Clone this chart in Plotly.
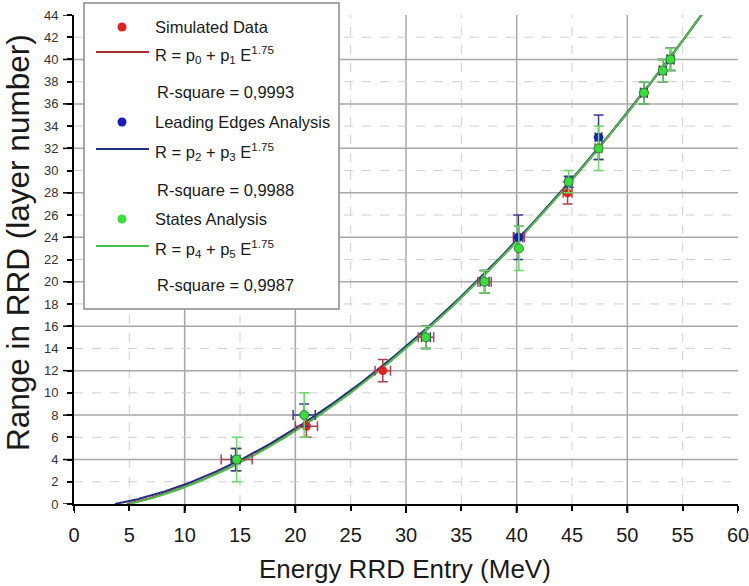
import numpy as np
import plotly.graph_objects as go

# ---- data ----
sim_E = [14.7, 21.0, 27.9, 31.8, 37.1, 40.2, 44.6, 47.4, 51.5, 53.2, 53.9]
sim_R = [4, 7, 12, 15, 20, 24, 28, 32, 37, 39, 40]
sim_dE = [1.4, 1.0, 0.7, 0.7, 0.6, 0.5, 0.4, 0.3, 0.3, 0.3, 0.3]
sim_dR = [1, 1, 1, 1, 1, 1, 1, 1, 1, 1, 1]

le_E = [14.6, 20.8, 31.8, 37.1, 40.15, 44.7, 47.4, 51.5, 53.2, 53.9]
le_R = [4, 8, 15, 20, 24, 29, 33, 37, 39, 40]
le_dE = [0.4, 1.0, 0.4, 0.4, 0.4, 0.3, 0.3, 0.3, 0.3, 0.3]
le_dR = [1, 1, 1, 1, 2, 0.5, 2, 1, 1, 1]

st_E = [14.7, 20.8, 31.8, 37.1, 40.2, 44.7, 47.4, 51.5, 53.2, 53.9]
st_R = [4, 8, 15, 20, 23, 29, 32, 37, 39, 40]
st_dR = [2, 2, 1, 1, 2, 1, 2, 1, 1, 1]

# fit parameters R = p_a + p_b * E^1.75
p0, p1 = -0.592, 0.03805
p2, p3 = -0.374, 0.03787
p4, p5 = -0.637, 0.03809
expo = 1.75

x_ticks = list(range(0, 61, 5))
y_ticks = list(range(0, 45, 2))

# ---- geometry (pixels) ----
W, H = 749, 586
L, R_, T, B = 74, 11, 15, 82
PW, PH = W - L - R_, H - T - B


def px(x):
    return (x - L) / PW


def py(y):
    return (H - B - y) / PH


FONT = "Liberation Sans, Arial"


def fit_curve(a, b):
    e0 = (-a / b) ** (1 / expo)
    e = np.linspace(e0, 58, 400)
    return e, a + b * e ** expo


fig = go.Figure()

# fitted curves
for a, b, col in [(p0, p1, "#a8302c"), (p2, p3, "#22307e"), (p4, p5, "#4cbf4c")]:
    e, r = fit_curve(a, b)
    fig.add_trace(go.Scatter(x=e, y=r, mode="lines", line=dict(color=col, width=2),
                             showlegend=False, hoverinfo="skip"))

# measured points with error bars
fig.add_trace(go.Scatter(
    x=sim_E, y=sim_R, mode="markers",
    marker=dict(color="#e02222", size=9),
    error_x=dict(type="data", array=sim_dE, color="#b04050", thickness=1.5, width=5),
    error_y=dict(type="data", array=sim_dR, color="#b04050", thickness=1.5, width=5),
    showlegend=False))
fig.add_trace(go.Scatter(
    x=le_E, y=le_R, mode="markers",
    marker=dict(color="#1a1ab8", size=9),
    error_x=dict(type="data", array=le_dE, color="#3a3a8c", thickness=1.5, width=5),
    error_y=dict(type="data", array=le_dR, color="#3a3a8c", thickness=1.5, width=5),
    showlegend=False))
fig.add_trace(go.Scatter(
    x=st_E, y=st_R, mode="markers",
    marker=dict(color="#3ddc3d", size=9, line=dict(color="#2e8a2e", width=1)),
    error_y=dict(type="data", array=st_dR, color="#6ad86a", thickness=1.5, width=5),
    showlegend=False))

shapes = []
# grid lines
for xv in range(5, 60, 5):
    solid = xv % 10 == 0
    shapes.append(dict(type="line", xref="x", yref="y", x0=xv, x1=xv, y0=0, y1=44,
                       line=dict(color="#a8a8a8" if solid else "#cfcfcf",
                                 width=1.5 if solid else 1,
                                 dash="solid" if solid else "dash"),
                       layer="below"))
for yv in range(2, 44, 2):
    solid = yv % 4 == 0
    shapes.append(dict(type="line", xref="x", yref="y", x0=0, x1=60, y0=yv, y1=yv,
                       line=dict(color="#a8a8a8" if solid else "#cfcfcf",
                                 width=1.5 if solid else 1,
                                 dash="solid" if solid else "dash"),
                       layer="below"))
# longer major ticks
for xv in range(0, 61, 10):
    shapes.append(dict(type="line", xref="x", yref="paper", x0=xv, x1=xv,
                       y0=0, y1=-9 / PH, line=dict(color="black", width=2)))
for yv in range(0, 45, 4):
    shapes.append(dict(type="line", xref="paper", yref="y", x0=0, x1=-11 / PW,
                       y0=yv, y1=yv, line=dict(color="black", width=1.5)))

# legend box
lx0, lx1, ly0, ly1 = 84, 339, 3, 309
shapes.append(dict(type="rect", xref="paper", yref="paper",
                   x0=px(lx0), x1=px(lx1), y0=py(ly1), y1=py(ly0),
                   line=dict(color="#8a8a8a", width=1.5), fillcolor="white", layer="above"))

annotations = []
rows = [
    ("marker", "#e02222", "Simulated Data", 27),
    ("line", "#a8302c", "R = p<sub>0</sub> + p<sub>1</sub> E<sup>1.75</sup>", 55),
    ("text", None, "R-square = 0,9993", 92),
    ("marker", "#1a1ab8", "Leading Edges Analysis", 122),
    ("line", "#22307e", "R = p<sub>2</sub> + p<sub>3</sub> E<sup>1.75</sup>", 152),
    ("text", None, "R-square = 0,9988", 190),
    ("marker", "#3ddc3d", "States Analysis", 219),
    ("line", "#4cbf4c", "R = p<sub>4</sub> + p<sub>5</sub> E<sup>1.75</sup>", 249),
    ("text", None, "R-square = 0,9987", 285),
]
for kind, col, txt, yc in rows:
    tx = 153
    if kind == "marker":
        shapes.append(dict(type="circle", xref="paper", yref="paper",
                           xsizemode="pixel", ysizemode="pixel",
                           xanchor=px(122), yanchor=py(yc),
                           x0=-4.5, x1=4.5, y0=-4.5, y1=4.5,
                           fillcolor=col, line=dict(color=col, width=0), layer="above"))
    elif kind == "line":
        shapes.append(dict(type="line", xref="paper", yref="paper",
                           x0=px(96), x1=px(149), y0=py(yc - 3), y1=py(yc - 3),
                           line=dict(color=col, width=2), layer="above"))
    else:
        tx = 155
    annotations.append(dict(text=txt, xref="paper", yref="paper", x=px(tx), y=py(yc),
                            xanchor="left", yanchor="middle", showarrow=False,
                            font=dict(family=FONT, size=16.5, color="#1a1a1a")))

# axis titles
annotations.append(dict(text="Energy RRD Entry (MeV)", xref="paper", yref="paper",
                        x=px(405), y=py(569), xanchor="center", yanchor="middle",
                        showarrow=False, font=dict(family=FONT, size=26, color="#1a1a1a")))
annotations.append(dict(text="Range in RRD (layer number)", xref="paper", yref="paper",
                        x=px(18), y=py(243), xanchor="center", yanchor="middle",
                        textangle=-90, showarrow=False,
                        font=dict(family=FONT, size=31.5, color="#1a1a1a")))

fig.update_layout(
    width=W, height=H,
    margin=dict(l=L, r=R_, t=T, b=B, pad=0, autoexpand=False),
    paper_bgcolor="white", plot_bgcolor="white",
    shapes=shapes, annotations=annotations,
    xaxis=dict(range=[0, 60], tickvals=x_ticks, ticktext=[str(v) for v in x_ticks],
               automargin=False,
               showgrid=False, zeroline=False, showline=True, linecolor="black", linewidth=2,
               ticks="outside", ticklen=5, tickwidth=1.5, tickcolor="black",
               ticklabelstandoff=7, ticklabeloverflow="allow",
               tickfont=dict(family=FONT, size=20, color="#1a1a1a")),
    yaxis=dict(range=[0, 44], tickvals=y_ticks, ticktext=[str(v) for v in y_ticks],
               automargin=False,
               showgrid=False, zeroline=False, showline=True, linecolor="black", linewidth=2,
               ticks="outside", ticklen=5, tickwidth=1.5, tickcolor="black",
               ticklabelstandoff=6,
               tickfont=dict(family=FONT, size=13, color="#333333")),
)

fig.write_html("out.html")
